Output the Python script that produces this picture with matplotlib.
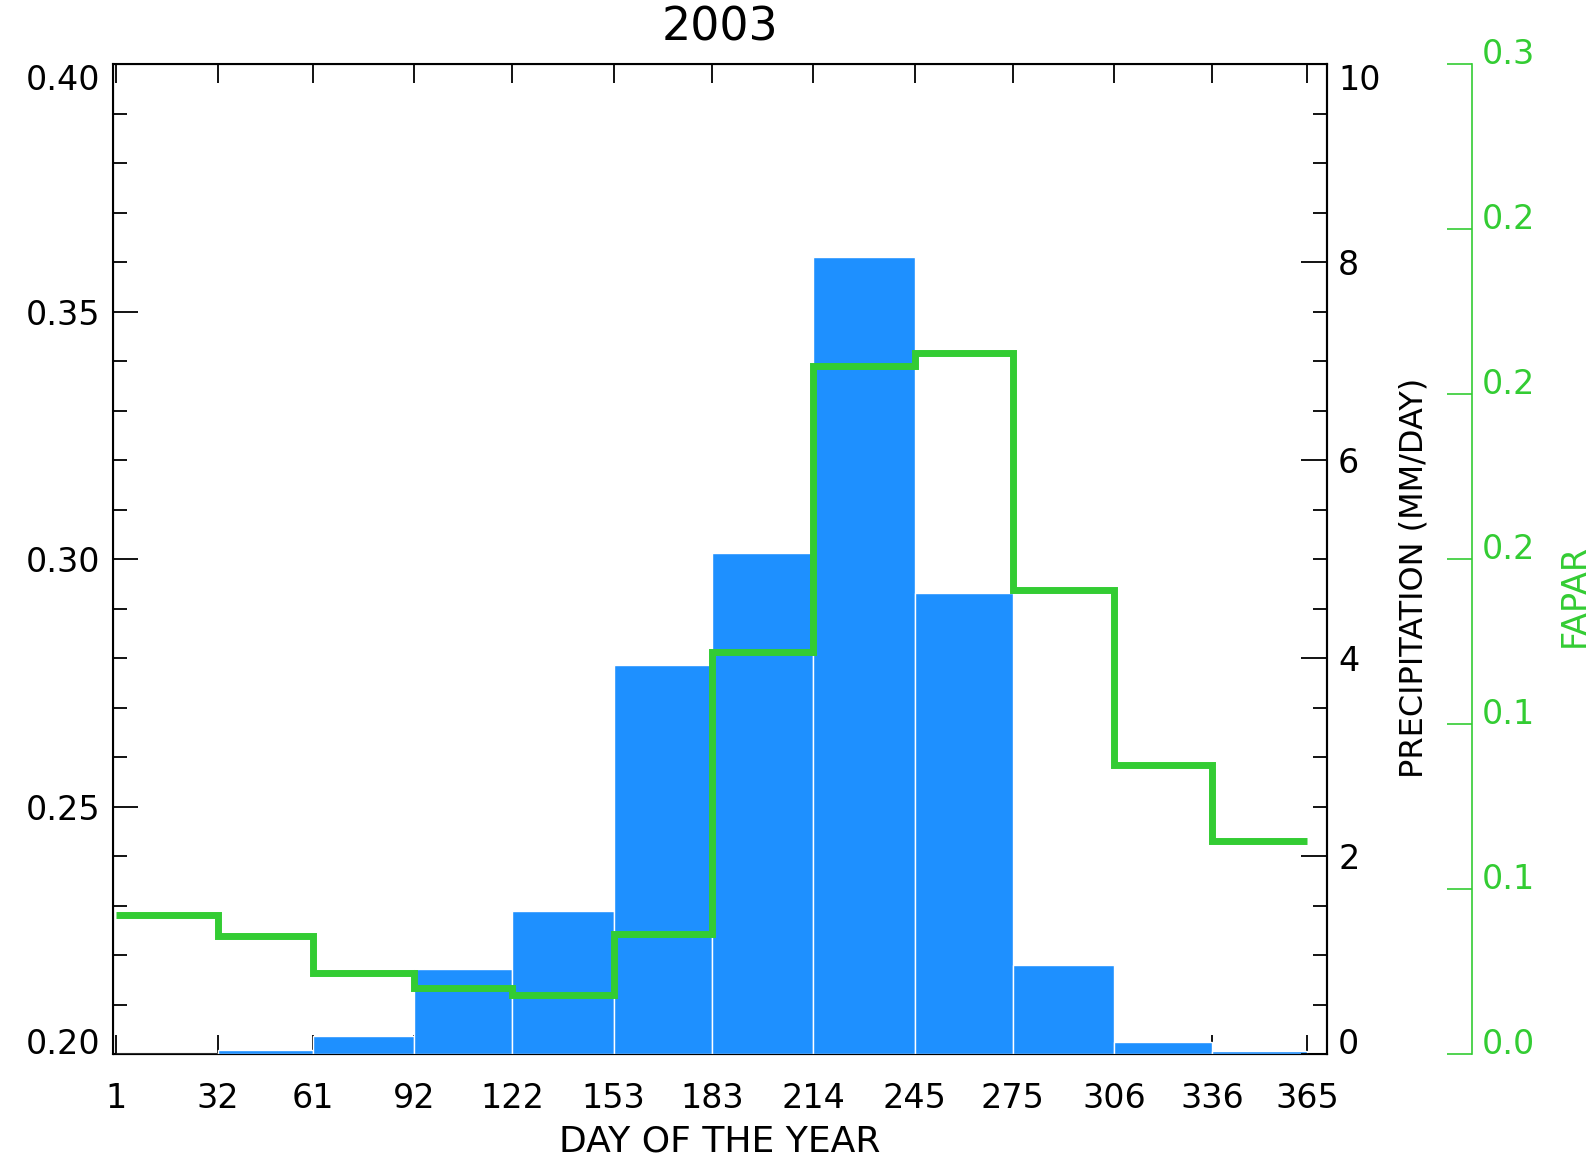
import matplotlib
matplotlib.use("Agg")
import matplotlib.pyplot as plt
import numpy as np

# Limites dos meses (dia do ano) usados como bins e rótulos do eixo x
dias_mes = [1, 32, 61, 92, 122, 153, 183, 214, 245, 275, 306, 336, 365]

# Precipitação média mensal (mm/dia)
precipitacao = [0.0, 0.04, 0.18, 0.86, 1.44, 3.93, 5.06, 8.05, 4.66, 0.90, 0.12, 0.03]

# Valores mensais da linha verde (eixo esquerdo, 0.20 - 0.40)
indice = [0.2281, 0.2238, 0.2164, 0.2133, 0.2120, 0.2243,
          0.2812, 0.3390, 0.3416, 0.2937, 0.2584, 0.2430]

# Rótulos do eixo FAPAR (como na figura original)
fapar_ticks = [0.0, 0.05, 0.10, 0.15, 0.20, 0.25, 0.30]
fapar_rotulos = ["0.0", "0.1", "0.1", "0.2", "0.2", "0.2", "0.3"]

AZUL = "#1E90FF"
VERDE = "#33CC33"
FS = 24

plt.rcParams["font.family"] = ["DejaVu Sans"]

W, H = 1595, 1158
fig = plt.figure(figsize=(W / 100, H / 100), dpi=100)
x0, x1, y0, y1 = 113, 1327, 64, 1054
ax = fig.add_axes([x0 / W, 1 - y1 / H, (x1 - x0) / W, (y1 - y0) / H])

# eixo esquerdo
ax.set_xlim(0, 371)
ax.set_ylim(0.20, 0.40)
ax.set_yticks(np.arange(0.20, 0.401, 0.05))
ax.set_yticks(np.arange(0.20, 0.401, 0.01), minor=True)
ax.set_yticklabels(["%.2f" % v for v in np.arange(0.20, 0.401, 0.05)])
ax.set_xticks(dias_mes)
ax.set_xticklabels([str(d) for d in dias_mes])
ax.tick_params(axis="y", which="major", direction="in", length=18, width=1.3,
               labelsize=FS, pad=9, right=False)
ax.tick_params(axis="y", which="minor", direction="in", length=10, width=1.3,
               right=False)
ax.tick_params(axis="x", which="major", direction="in", length=14, width=1.3,
               labelsize=FS, pad=20, top=True)
for s in ax.spines.values():
    s.set_linewidth(1.5)
ylab = ax.get_yticklabels()
ylab[0].set_va("baseline")
ylab[-1].set_va("top")

ax.set_xlabel("DAY OF THE YEAR", fontsize=26)
ax.xaxis.set_label_coords(0.5, -0.088)
ax.xaxis.label.set_va("center")
ax.text(0.5, 1.036, "2003", transform=ax.transAxes, ha="center", va="center",
        fontsize=33)

# eixo da precipitação
ax2 = ax.twinx()
larguras = np.diff(dias_mes)
ax2.bar(dias_mes[:-1], precipitacao, width=larguras, align="edge",
        color=AZUL, edgecolor="white", linewidth=1.0)
ax2.set_ylim(0, 10)
ax2.set_yticks(np.arange(0, 11, 2))
ax2.set_yticks(np.arange(0, 10.01, 0.5), minor=True)
ax2.set_yticklabels([str(v) for v in range(0, 11, 2)])
ax2.tick_params(axis="y", which="major", direction="in", length=19, width=1.3,
                labelsize=FS, pad=8)
ax2.tick_params(axis="y", which="minor", direction="in", length=10, width=1.3)
ax2.spines["right"].set_linewidth(1.5)
rlab = ax2.get_yticklabels()
rlab[0].set_va("baseline")
rlab[-1].set_va("top")
ax2.set_ylabel("PRECIPITATION (MM/DAY)", fontsize=23)
ax2.yaxis.set_label_coords((1414 - x0) / (x1 - x0), 0.481)
ax2.yaxis.label.set_va("center")

# eixo FAPAR (verde)
ax3 = ax.twinx()
ax3.stairs(np.array(indice), dias_mes, baseline=None, color=VERDE,
           linewidth=5, transform=ax.transData)
ax3.set_ylim(0, 0.3)
for lado in ["top", "bottom", "left"]:
    ax3.spines[lado].set_visible(False)
ax3.spines["right"].set_position(("axes", (1472 - x0) / (x1 - x0)))
ax3.spines["right"].set_color(VERDE)
ax3.spines["right"].set_linewidth(1.2)
ax3.set_yticks(fapar_ticks)
ax3.set_yticklabels(fapar_rotulos)
ax3.tick_params(axis="y", direction="in", length=18, width=1.2, color=VERDE,
                labelcolor=VERDE, labelsize=FS, pad=7)
for t in ax3.get_yticklabels():
    t.set_va("baseline")
ax3.set_ylabel("FAPAR", fontsize=24, color=VERDE)
ax3.yaxis.set_label_coords((1574 - x0) / (x1 - x0), (y1 - 595) / (y1 - y0))
ax3.yaxis.label.set_va("center")

fig.savefig("out.png", dpi=100)
